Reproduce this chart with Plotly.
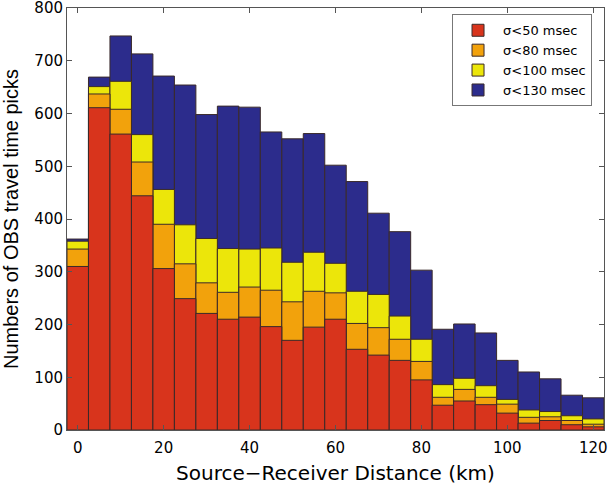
import plotly.graph_objects as go

distance_km = [0, 5, 10, 15, 20, 25, 30, 35, 40, 45, 50, 55, 60,
               65, 70, 75, 80, 85, 90, 95, 100, 105, 110, 115, 120]
sigma_lt_50 = [310, 611, 561, 444, 306, 249, 221, 210, 214, 196, 170, 195, 210,
               153, 142, 132, 95, 47, 55, 48, 32, 13, 18, 10, 6]
sigma_lt_80 = [343, 637, 608, 508, 390, 315, 279, 261, 271, 265, 243, 263, 260,
               202, 194, 172, 130, 62, 77, 62, 49, 24, 25, 18, 11]
sigma_lt_100 = [358, 651, 661, 560, 456, 389, 363, 344, 343, 345, 318, 337, 316,
                263, 257, 216, 172, 86, 98, 84, 58, 38, 35, 27, 21]
sigma_lt_130 = [362, 669, 747, 713, 671, 654, 598, 614, 612, 565, 552, 562, 502,
                471, 411, 376, 303, 191, 201, 184, 132, 110, 97, 66, 61]
x_ticks = [0, 20, 40, 60, 80, 100, 120]
y_ticks = [0, 100, 200, 300, 400, 500, 600, 700, 800]

series = [
    ("σ<130 msec", sigma_lt_130, "#2c2c8c"),
    ("σ<100 msec", sigma_lt_100, "#ece60a"),
    ("σ<80 msec", sigma_lt_80, "#f2a20c"),
    ("σ<50 msec", sigma_lt_50, "#d8341c"),
]

WIDE = "DejaVu Sans, Liberation Sans, sans-serif"
NARROW = "Liberation Sans, Arial, Helvetica, sans-serif"

fig = go.Figure()
for name, vals, color in series:
    fig.add_trace(go.Bar(
        x=distance_km, y=vals, name=name, width=5,
        marker=dict(color=color, line=dict(color="#3a2a2a", width=1)),
        opacity=1,
    ))

fig.update_layout(
    width=610, height=487,
    margin=dict(l=67, r=6, t=8, b=57),
    barmode="overlay",
    plot_bgcolor="white", paper_bgcolor="white",
    font=dict(family=WIDE, color="black", size=15),
    legend=dict(
        traceorder="reversed",
        x=0.717, y=0.985, xanchor="left", yanchor="top",
        bgcolor="white", bordercolor="#777777", borderwidth=1,
        font=dict(family=WIDE, size=13),
        itemwidth=40, tracegroupgap=0,
    ),
    xaxis=dict(
        range=[-2.5, 122.5], tickvals=x_ticks,
        ticks="inside", ticklen=5, tickcolor="#555555",
        showline=True, linecolor="#555555", linewidth=1, mirror="ticks",
        showgrid=False, zeroline=False, automargin=False,
        ticklabeloverflow="allow",
        tickfont=dict(family=WIDE, size=15), ticklabelstandoff=4,
        title=dict(text="Source−Receiver Distance (km)",
                   font=dict(family=WIDE, size=20), standoff=9),
    ),
    yaxis=dict(
        range=[0, 800], tickvals=y_ticks,
        ticks="inside", ticklen=5, tickcolor="#555555",
        showline=True, linecolor="#555555", linewidth=1, mirror="ticks",
        showgrid=False, zeroline=False, automargin=False,
        ticklabeloverflow="allow",
        tickfont=dict(family=WIDE, size=15),
        title=dict(text="Numbers of OBS travel time picks",
                   font=dict(family=NARROW, size=20), standoff=12),
    ),
)

fig.write_html(
    "out.html",
    config={"displayModeBar": False},
    post_script="document.body.style.margin='0';document.body.style.overflow='hidden';",
)
